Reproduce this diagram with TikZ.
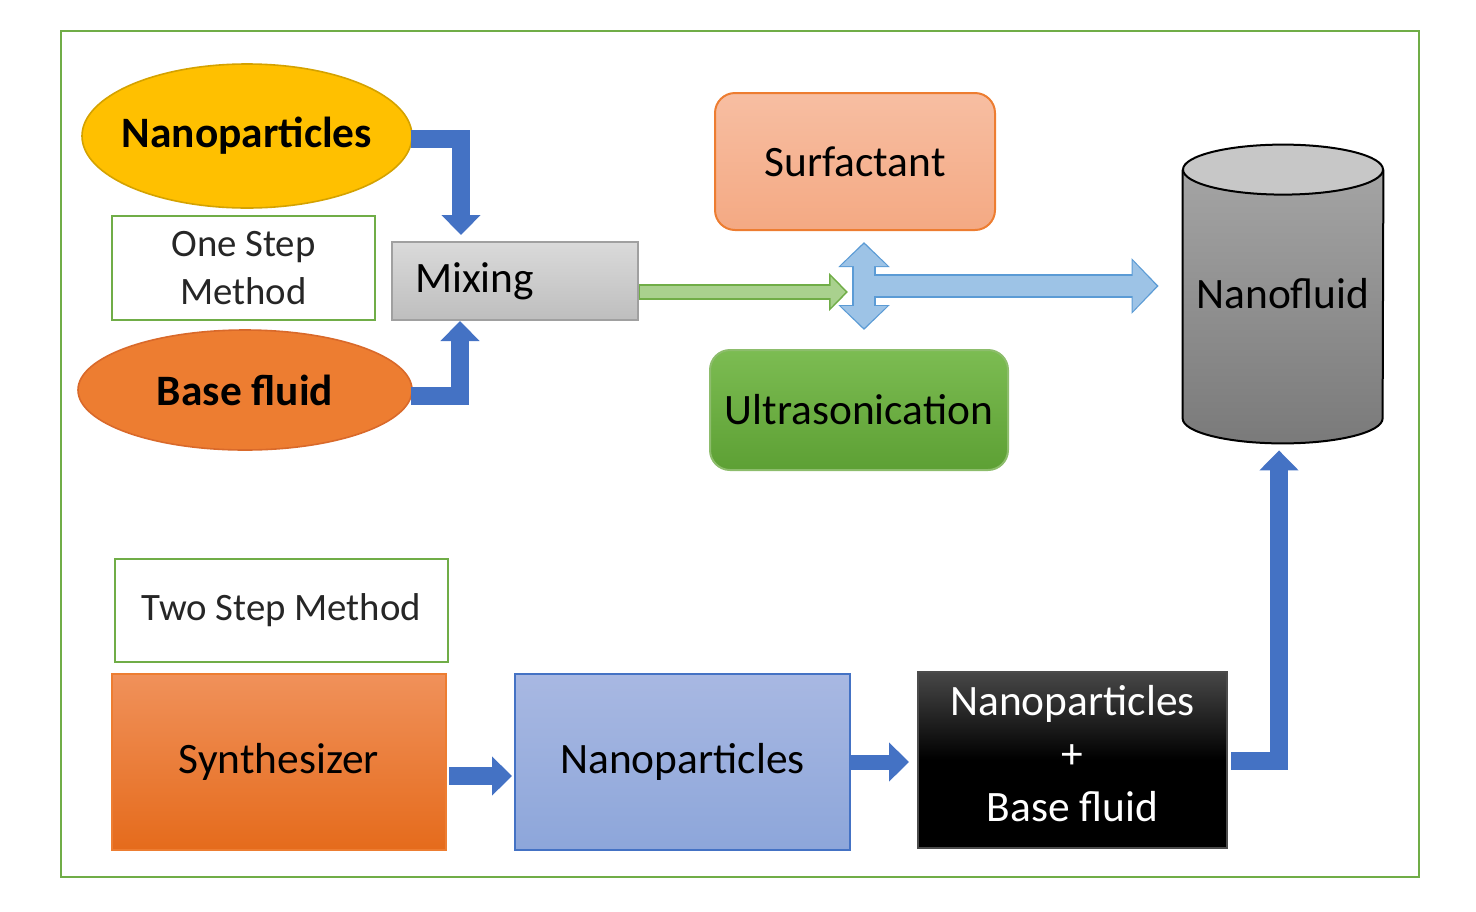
\documentclass[tikz,border=0pt]{standalone}
\usepackage{fontspec}
\setmainfont{Carlito}
\usetikzlibrary{shapes.geometric,arrows.meta,calc,backgrounds}
\definecolor{framegreen}{HTML}{70AD47}
\definecolor{npyellow}{HTML}{FFC000}
\definecolor{npgold}{HTML}{D4A200}
\definecolor{bforange}{HTML}{ED7D31}
\definecolor{bfborder}{HTML}{D9692A}
\definecolor{mixtop}{HTML}{DADADA}
\definecolor{mixbot}{HTML}{BEBEBE}
\definecolor{mixborder}{HTML}{A0A0A0}
\definecolor{surftop}{HTML}{F7BEA2}
\definecolor{surfbot}{HTML}{F4A983}
\definecolor{ultratop}{HTML}{7CBC52}
\definecolor{ultrabot}{HTML}{5DA034}
\definecolor{synthtop}{HTML}{F0915A}
\definecolor{synthbot}{HTML}{E56B1C}
\definecolor{nptop}{HTML}{A8B8E2}
\definecolor{npbot}{HTML}{8DA6DA}
\definecolor{arrowblue}{HTML}{4472C4}
\definecolor{crossfill}{HTML}{9DC3E6}
\definecolor{crossborder}{HTML}{5B9BD5}
\definecolor{greenfill}{HTML}{A9D18E}
\definecolor{cyltop}{HTML}{C7C7C7}
\definecolor{cylmid}{HTML}{A8A8A8}
\definecolor{cylbot}{HTML}{7A7A7A}
\definecolor{darktext}{HTML}{262626}
\newcommand{\bigtxt}{\fontsize{21.7}{26.5}\selectfont}
\newcommand{\smalltxt}{\fontsize{19.4}{24}\selectfont}
\tikzset{
  fillbox/.style={draw, rectangle, line width=1pt, align=center, inner sep=2pt, font=\bigtxt},
  labelbox/.style={draw=framegreen, line width=1pt, fill=white, align=center, font=\smalltxt, text=darktext},
  blueelbow/.style={draw=arrowblue, line width=9pt, line join=miter, -{Triangle[width=19pt,length=10pt]}},
  greenout/.style={draw=framegreen, line width=8pt, -{Triangle[width=18.5pt,length=9.5pt]}},
  greenin/.style={draw=greenfill, line width=6pt, shorten >=1.2pt, -{Triangle[width=15pt,length=7.5pt]}},
  crossout/.style={draw=crossborder, line width=12pt},
  crossin/.style={draw=crossfill, line width=10pt}
}
\begin{document}
\begin{tikzpicture}[x=0.5pt,y=-0.5pt]
  \useasboundingbox (0,0) rectangle (1476,911);
  \draw[framegreen, line width=1.2pt] (61,31) rectangle (1419,877);

  %% one step method
  \node[ellipse, draw=npgold, line width=0.8pt, fill=npyellow, inner sep=0pt,
        minimum width=165pt, minimum height=72pt, font=\bigtxt\bfseries] (np) at (247,136) {\makebox[0pt]{Nanoparticles}};
  \node[labelbox, minimum width=131.5pt, minimum height=52pt] (one) at (243.5,268) {One Step\\Method};
  \node[ellipse, draw=bfborder, line width=0.8pt, fill=bforange, inner sep=0pt,
        minimum width=167pt, minimum height=60pt, font=\bigtxt\bfseries] (bf) at (245,390) {\makebox[0pt]{Base fluid}};
  \node[fillbox, draw=mixborder, top color=mixtop, bottom color=mixbot, align=left,
        text width=100pt, inner xsep=11.5pt, minimum height=39pt] (mix) at (515,281) {Mixing};
  \node[fillbox, draw=bforange, top color=surftop, bottom color=surfbot, rounded corners=10pt,
        minimum width=140pt, minimum height=68.5pt] (surf) at (855,161.5) {Surfactant};
  \node[fillbox, draw=framegreen!80, top color=ultratop, bottom color=ultrabot, rounded corners=10pt,
        minimum width=149pt, minimum height=60pt, inner sep=0pt] (ultra) at (859,410) {Ultrasonication};
  \node[minimum width=100pt, minimum height=149pt, inner sep=0pt, font=\bigtxt] (nf) at (1283,294) {Nanofluid};
  \begin{scope}[on background layer]
    \shade[top color=cylmid, bottom color=cylbot]
      ($(nf.north west)+(0,25)$) -- ($(nf.south west)+(0,-25)$)
      arc[start angle=180, end angle=360, x radius=50pt, y radius=12.5pt]
      -- ($(nf.north east)+(0,25)$)
      arc[start angle=0, end angle=180, x radius=50pt, y radius=12.5pt] -- cycle;
    \draw[line width=1pt]
      ($(nf.north west)+(0,25)$) -- ($(nf.south west)+(0,-25)$)
      arc[start angle=180, end angle=360, x radius=50pt, y radius=12.5pt]
      -- ($(nf.north east)+(0,25)$);
    \draw[fill=cyltop, line width=1pt] ($(nf.north)+(0,25)$) ellipse[x radius=50pt, y radius=12.5pt];
  \end{scope}

  %% arrows into mixing
  \draw[blueelbow, shorten >=3pt] ($(np.east)+(-2,3)$) -| ($(mix.north west)+(70,0)$);
  \draw[blueelbow] ($(bf.east)+(-2,6)$) -| ($(mix.south west)+(69,0)$);

  %% cross arrow
  \coordinate (hub) at (864,286);
  \draw[crossout, -{Triangle[width=27pt,length=13.5pt]}, shorten >=12pt] (hub) -- (hub -| nf.west);
  \draw[crossout, {Triangle[width=25pt,length=12.5pt]}-{Triangle[width=25pt,length=12.5pt]}]
    ($(hub)+(0,-44)$) -- ($(hub)+(0,44)$);
  \draw[crossin, -{Triangle[width=24.5pt,length=12pt]}, shorten >=13pt] (hub) -- (hub -| nf.west);
  \draw[crossin, {Triangle[width=22.5pt,length=11pt]}-{Triangle[width=22.5pt,length=11pt]},
        shorten <=1pt, shorten >=1pt] ($(hub)+(0,-44)$) -- ($(hub)+(0,44)$);
  \draw[greenout] ($(mix.east)+(0,11)$) -- ($(hub)+(-16,6)$);
  \draw[greenin] ($(mix.east)+(1,11)$) -- ($(hub)+(-16,6)$);

  %% two step method
  \node[labelbox, minimum width=166.5pt, minimum height=51.5pt] (two) at (281.5,610.5) {Two Step Method};
  \node[fillbox, draw=bforange, top color=synthtop, bottom color=synthbot,
        minimum width=167pt, minimum height=88pt] (synth) at (279,762) {Synthesizer};
  \node[fillbox, draw=arrowblue, top color=nptop, bottom color=npbot,
        minimum width=167.5pt, minimum height=88pt] (npb) at (682.5,762) {Nanoparticles};
  \node[fillbox, draw=black!70, top color=black!72, bottom color=black, middle color=black, text=white,
        minimum width=154.5pt, minimum height=88pt] (mixt) at (1072.5,760) {Nanoparticles\\+\\Base fluid\rule[-7pt]{0pt}{0pt}};
  \draw[blueelbow] ($(synth.east)+(2,14)$) -- ($(npb.west)+(-2,14)$);
  \draw[blueelbow, line width=7.5pt] (npb.east) -- ($(mixt.west)+(-8,2)$);
  \draw[blueelbow, shorten >=3.5pt] ($(mixt.east)+(3,1)$) -| ($(nf.south)+(-4,0)$);
\end{tikzpicture}
\end{document}
